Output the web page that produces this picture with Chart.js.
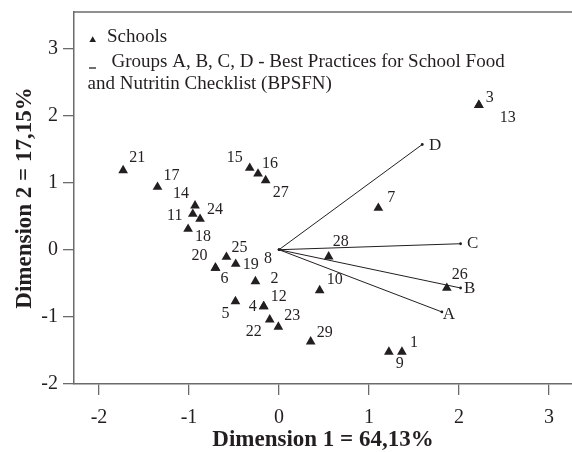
<!DOCTYPE html>
<html>
<head>
<meta charset="utf-8">
<script src="https://cdn.jsdelivr.net/npm/chart.js@4/dist/chart.umd.min.js"></script>
<style>
  html, body { margin: 0; padding: 0; background: #fff; }
  #wrap { width: 572px; height: 452px; }
</style>
</head>
<body>
<div id="wrap"><canvas id="c" width="572" height="452"></canvas></div>
<script>
// ---- data ----
const schoolIds = ['1','2','3','4','5','6','7','8','9','10','11','12','13','14','15','16','17','18','19','20','21','22','23','24','25','26','27','28','29'];
const schoolDim1 = [1.366,-0.262,2.221,-0.170,-0.484,-0.706,1.104,0,1.221,0.452,-0.958,-0.170,2.221,-0.933,-0.325,-0.233,-1.350,-1.010,-0.481,-0.706,-1.732,-0.103,-0.007,-0.877,-0.584,1.865,-0.148,0.552,0.352];
const schoolDim2 = [-1.522,-0.472,2.153,-0.844,-0.769,-0.272,0.621,0,-1.522,-0.606,0.531,-0.844,2.153,0.655,1.216,1.131,0.933,0.308,-0.213,-0.272,1.180,-1.042,-1.150,0.457,-0.109,-0.570,1.031,-0.104,-1.369];
const groupNames = ['A','B','C','D'];
const groupDim1 = [1.810, 2.018, 2.018, 1.592];
const groupDim2 = [-0.927, -0.570, 0.089, 1.567];
const xTitle = 'Dimension 1 = 64,13%';
const yTitle = 'Dimension 2 = 17,15%';
const legendSchools = 'Schools';
const legendGroups = ['Groups A, B, C, D - Best Practices for School Food', 'and Nutritin Checklist (BPSFN)'];

// ---- label placement (pixel offsets of text centre from the marker) ----
const schoolLabelOffsets = {
  '1':[12,-9],'2':[19,-3],'3':[11,-7],'4':[-11,0],'5':[-10,12],'6':[9,11],'7':[13,-10],'8':[-11,9],
  '9':[11,12],'10':[15,-11],'11':[-18,2],'12':[15,-10],'13':[29,13],'14':[-14,-12],'15':[-15,-10],
  '16':[12,-10],'17':[14,-11],'18':[15,8],'19':[15,1],'20':[-16,-12],'21':[14,-13],'22':[-16,12],
  '23':[14,-11],'24':[15,-9],'25':[13,-9],'26':[13,-13],'27':[15,12],'28':[12,-15],'29':[14,-9]
};
const groupLabelOffsets = { 'A':[7,3], 'B':[9,1], 'C':[12,0], 'D':[13,1] };

const INK = '#231f20';
const AXIS = '#6b6b6b';
const SERIF = '"Liberation Serif", "DejaVu Serif", serif';

const schoolPoints = schoolIds.map((id, i) => ({ x: schoolDim1[i], y: schoolDim2[i], id }));
const groupDatasets = groupNames.map((g, i) => ({
  label: g,
  data: [{ x: 0, y: 0 }, { x: groupDim1[i], y: groupDim2[i], id: g }],
  showLine: true,
  borderColor: INK,
  borderWidth: 1,
  backgroundColor: INK,
  pointRadius: ctx => ctx.dataIndex === 1 ? 1.4 : 1.2,
  pointBorderWidth: 0,
  pointHoverRadius: 0
}));

const labelsPlugin = {
  id: 'labels',
  afterDatasetsDraw(chart) {
    const c = chart.ctx;
    c.save();
    c.fillStyle = INK;
    c.font = '16px ' + SERIF;
    c.textAlign = 'center';
    c.textBaseline = 'middle';
    const meta0 = chart.getDatasetMeta(0);
    meta0.data.forEach((el, i) => {
      const id = schoolIds[i];
      const off = schoolLabelOffsets[id] || [10, -10];
      c.fillText(id, el.x + off[0], el.y + off[1]);
    });
    c.font = '17px ' + SERIF;
    groupNames.forEach((g, i) => {
      const el = chart.getDatasetMeta(i + 1).data[1];
      const off = groupLabelOffsets[g];
      c.fillText(g, el.x + off[0], el.y + off[1]);
    });
    c.restore();
  }
};

const framePlugin = {
  id: 'frame',
  afterDraw(chart) {
    const a = chart.chartArea;
    const c = chart.ctx;
    c.save();
    c.strokeStyle = AXIS;
    c.lineWidth = 1.5;
    c.beginPath();
    c.moveTo(a.left, a.top);
    c.lineTo(chart.width, a.top);
    c.stroke();
    c.restore();
  }
};

const legendPlugin = {
  id: 'customLegend',
  afterDraw(chart) {
    const c = chart.ctx;
    c.save();
    c.fillStyle = INK;
    c.strokeStyle = INK;
    c.beginPath();
    c.moveTo(92.7, 36.3);
    c.lineTo(96.0, 42.0);
    c.lineTo(89.4, 42.0);
    c.closePath();
    c.fill();
    c.lineWidth = 1.3;
    c.beginPath();
    c.moveTo(89, 68);
    c.lineTo(96, 68);
    c.stroke();
    c.font = '19px ' + SERIF;
    c.textAlign = 'left';
    c.textBaseline = 'middle';
    c.fillText(legendSchools, 107, 37);
    c.fillText(legendGroups[0], 111.5, 62.5);
    c.fillText(legendGroups[1], 87.5, 84);
    c.restore();
  }
};

new Chart(document.getElementById('c'), {
  type: 'scatter',
  data: {
    datasets: [
      {
        label: 'Schools',
        data: schoolPoints,
        pointStyle: 'triangle',
        backgroundColor: INK,
        borderColor: INK,
        borderWidth: 0,
        pointRadius: ctx => (ctx.raw && ctx.raw.x === 0 && ctx.raw.y === 0) ? 0 : 5.6,
        pointHoverRadius: 5.6
      },
      ...groupDatasets
    ]
  },
  options: {
    responsive: false,
    animation: false,
    events: [],
    layout: { autoPadding: false, padding: { top: 12, right: 0, left: 0, bottom: 0 } },
    plugins: { legend: { display: false }, tooltip: { enabled: false } },
    scales: {
      x: {
        type: 'linear',
        min: -2.278,
        max: 3.256,
        afterFit(scale) { scale.height = 68; scale.paddingLeft = 0; scale.paddingRight = 0; },
        ticks: { stepSize: 1, includeBounds: false, color: INK, font: { family: SERIF, size: 20 }, padding: 11, maxRotation: 0 },
        grid: { display: true, drawOnChartArea: false, drawTicks: true, tickLength: 11, color: AXIS, lineWidth: 1.3 },
        border: { display: true, color: AXIS, width: 1.5 },
        title: { display: true, text: xTitle, color: INK, font: { family: SERIF, size: 23, weight: 'bold', lineHeight: 1.0 }, padding: { top: 0, bottom: 0 } }
      },
      y: {
        type: 'linear',
        min: -2,
        max: 3.54,
        afterFit(scale) { scale.width = 74; scale.paddingTop = 0; scale.paddingBottom = 0; },
        ticks: { stepSize: 1, includeBounds: false, color: INK, font: { family: SERIF, size: 20 }, padding: 5 },
        grid: { display: true, drawOnChartArea: false, drawTicks: true, tickLength: 11, color: AXIS, lineWidth: 1.3 },
        border: { display: true, color: AXIS, width: 1.5 },
        title: { display: true, text: yTitle, color: INK, font: { family: SERIF, size: 23, weight: 'bold' }, padding: { top: 11, bottom: 0 } }
      }
    }
  },
  plugins: [labelsPlugin, framePlugin, legendPlugin]
});
</script>
</body>
</html>
